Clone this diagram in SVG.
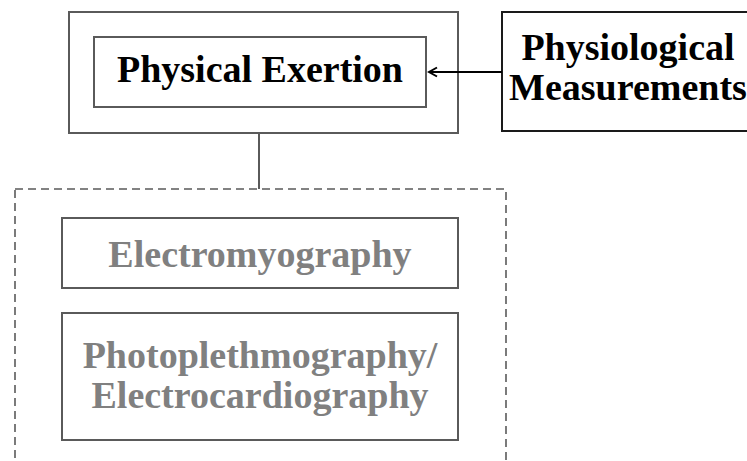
<svg xmlns="http://www.w3.org/2000/svg" width="747" height="461" viewBox="0 0 747 461">
  <defs>
    <style>
      .box { fill: #ffffff; stroke: #5a5a5a; stroke-width: 2; }
      .box-dark { fill: #ffffff; stroke: #1a1a1a; stroke-width: 2; }
      .group { fill: none; stroke: #5a5a5a; stroke-width: 1.6; stroke-dasharray: 8 5; }
      .label { font-family: "Liberation Serif", "Times New Roman", serif; font-weight: bold; font-size: 38px; text-anchor: middle; }
      .dark { fill: #000000; }
      .muted { fill: #808080; }
      .link { fill: none; stroke: #5a5a5a; stroke-width: 2; }
      .arrow { fill: none; stroke: #000000; stroke-width: 2; }
    </style>
    <marker id="head" viewBox="0 0 12 12" refX="10" refY="6" markerWidth="12" markerHeight="12" markerUnits="userSpaceOnUse" orient="auto">
      <path d="M2,1.5 L10,6 L2,10.5" fill="none" stroke="#000000" stroke-width="2"/>
    </marker>
  </defs>

  <rect width="747" height="461" fill="#ffffff"/>

  <!-- physical exertion container with its inner label box -->
  <g id="physical-exertion">
    <rect class="box" x="69" y="12" width="389" height="121"/>
    <rect class="box" x="94" y="37" width="332" height="70"/>
    <text class="label dark" x="260" y="82">Physical Exertion</text>
  </g>

  <!-- measurement source -->
  <g id="physiological-measurements">
    <rect class="box-dark" x="502" y="12" width="260" height="119"/>
    <text class="label dark" x="628" y="60">Physiological</text>
    <text class="label dark" x="628" y="100">Measurements</text>
  </g>

  <!-- dashed group of signal types -->
  <g id="signal-group">
    <rect class="group" x="15" y="189" width="491" height="300"/>
  </g>

  <g id="electromyography">
    <rect class="box" x="62" y="218" width="396" height="70"/>
    <text class="label muted" x="260" y="267">Electromyography</text>
  </g>

  <g id="ppg-ecg">
    <rect class="box" x="62" y="313" width="396" height="127"/>
    <text class="label muted" x="260" y="368">Photoplethmography/</text>
    <text class="label muted" x="260" y="408">Electrocardiography</text>
  </g>

  <!-- connectors, drawn last so they cross the container border -->
  <g id="connectors">
    <line class="link" x1="259" y1="134" x2="259" y2="189"/>
    <line class="arrow" x1="502" y1="72" x2="429" y2="72" marker-end="url(#head)"/>
  </g>
</svg>
